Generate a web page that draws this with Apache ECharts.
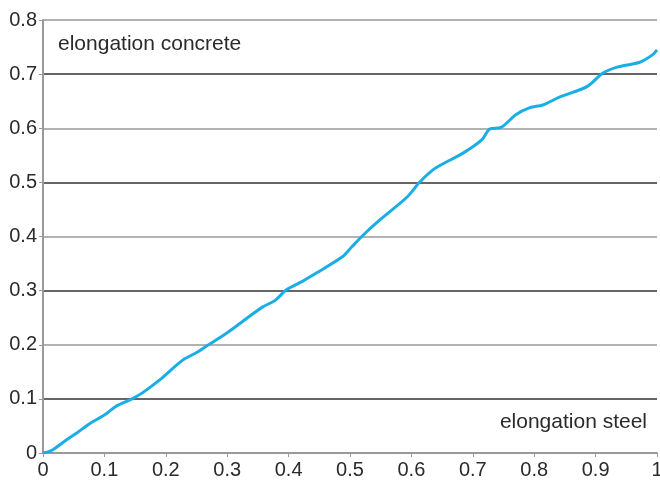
<!DOCTYPE html>
<html><head><meta charset="utf-8">
<script src="https://cdn.jsdelivr.net/npm/echarts@6/dist/echarts.min.js"></script>
<style>html,body{margin:0;padding:0;background:#fff}#c{width:660px;height:481px}</style>
</head><body><div id="c"></div>
<script>
const xSteel = [0,0.008,0.016,0.033,0.055,0.077,0.1,0.12,0.145,0.163,0.19,0.228,0.251,0.267,0.3,0.332,0.358,0.378,0.397,0.424,0.44,0.487,0.503,0.52,0.549,0.593,0.614,0.635,0.651,0.684,0.715,0.728,0.745,0.77,0.793,0.814,0.842,0.886,0.912,0.935,0.972,0.993,1];
const yConcrete = [0,0.002,0.006,0.02,0.037,0.055,0.07,0.087,0.1,0.112,0.135,0.172,0.186,0.198,0.222,0.249,0.27,0.282,0.302,0.318,0.329,0.362,0.381,0.401,0.431,0.473,0.501,0.523,0.534,0.554,0.579,0.599,0.601,0.625,0.638,0.643,0.658,0.677,0.702,0.713,0.722,0.736,0.745];
const xLabel = 'elongation steel';
const yLabel = 'elongation concrete';

const chart = echarts.init(document.getElementById('c'), null, {renderer:'canvas'});
const font = 'Liberation Sans, Arial, sans-serif';
chart.setOption({
  animation:false,
  grid:{left:43,right:3,top:20,bottom:28,containLabel:false,outerBoundsMode:'none'},
  xAxis:{type:'value',min:0,max:1,interval:0.1,
    axisLine:{show:true,lineStyle:{color:'#999',width:2}},
    axisTick:{show:true,length:4,lineStyle:{color:'#999'}},
    splitLine:{show:false},
    axisLabel:{color:'#2a2a2a',fontSize:20,fontFamily:font,margin:7,
      formatter:v=>String(Math.round(v*10)/10)}},
  yAxis:{type:'value',min:0,max:0.8,interval:0.1,
    axisLine:{show:true,lineStyle:{color:'#999',width:2}},
    axisTick:{show:true,length:4,lineStyle:{color:'#999'}},
    splitLine:{show:true,lineStyle:{color:['#999','#333'],width:1.5}},
    axisLabel:{color:'#2a2a2a',fontSize:20,fontFamily:font,margin:6,
      formatter:v=>String(Math.round(v*10)/10)}},
  graphic:[
    {type:'text',left:58,top:34,style:{text:yLabel,fill:'#2a2a2a',font:'21px '+font}},
    {type:'text',right:13,top:412,style:{text:xLabel,fill:'#2a2a2a',font:'21px '+font}}
  ],
  series:[{type:'line',showSymbol:false,smooth:0.3,
    data:xSteel.map((x,i)=>[x,yConcrete[i]]),
    lineStyle:{color:'#1aaee6',width:3}}]
});
</script></body></html>
